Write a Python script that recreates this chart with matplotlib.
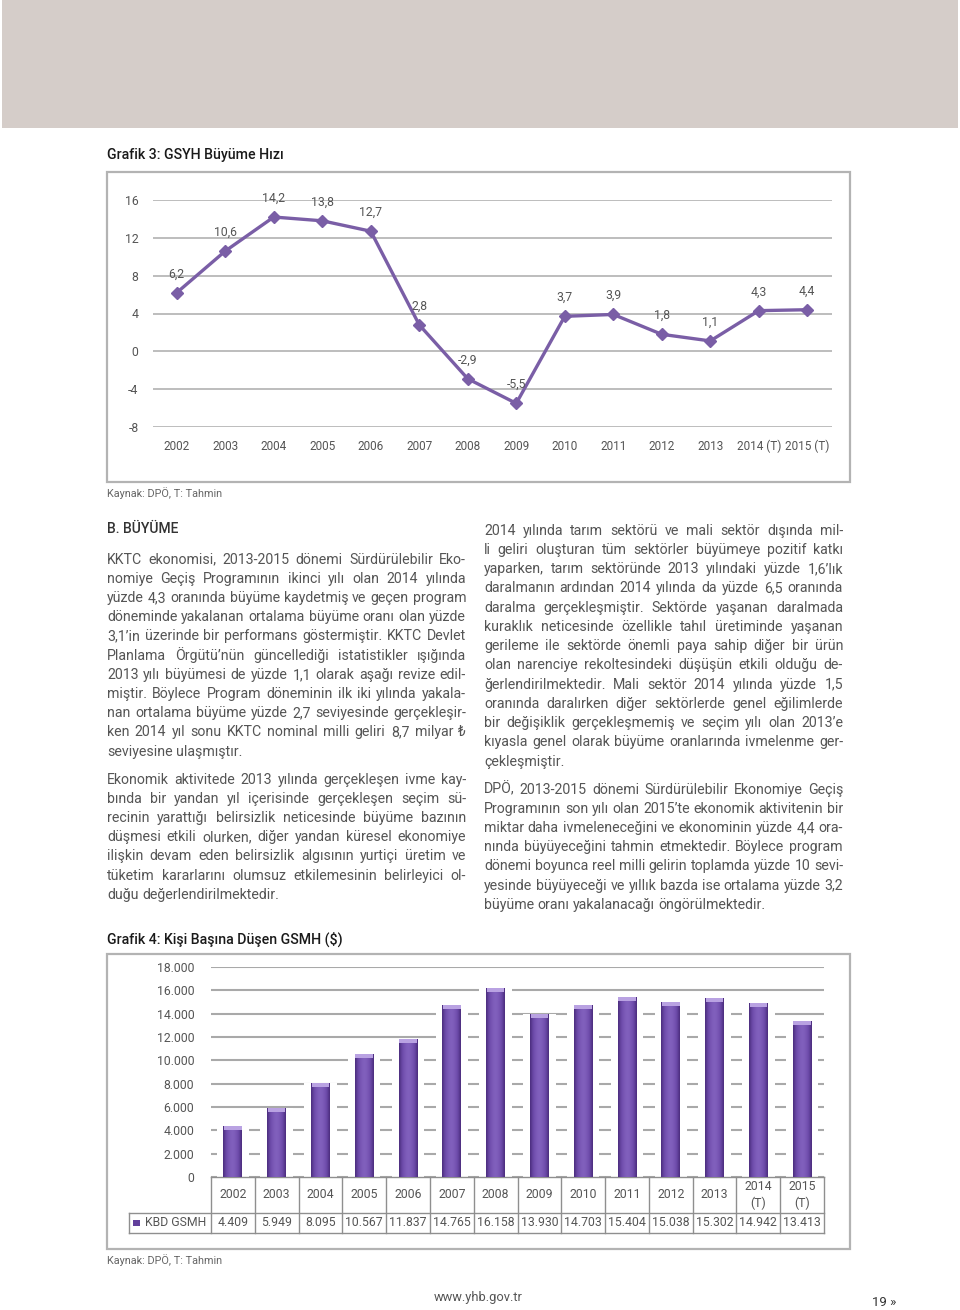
import matplotlib
matplotlib.use('Agg')
import matplotlib.pyplot as plt
import numpy as np
from matplotlib.patches import Rectangle
from matplotlib.transforms import blended_transform_factory
from matplotlib.colors import LinearSegmentedColormap

# ---------------- data ----------------
years = ['2002', '2003', '2004', '2005', '2006', '2007', '2008', '2009',
         '2010', '2011', '2012', '2013', '2014 (T)', '2015 (T)']
growth = [6.2, 10.6, 14.2, 13.8, 12.7, 2.8, -2.9, -5.5, 3.7, 3.9, 1.8, 1.1, 4.3, 4.4]
growth_labels = ['6,2', '10,6', '14,2', '13,8', '12,7', '2,8', '-2,9', '-5,5',
                 '3,7', '3,9', '1,8', '1,1', '4,3', '4,4']
growth_ticks = [-8, -4, 0, 4, 8, 12, 16]

gnp_years = ['2002', '2003', '2004', '2005', '2006', '2007', '2008', '2009',
             '2010', '2011', '2012', '2013', '2014\n(T)', '2015\n(T)']
gnp = [4409, 5949, 8095, 10567, 11837, 14765, 16158, 13930, 14703, 15404,
       15038, 15302, 14942, 13413]
gnp_labels = ['4.409', '5.949', '8.095', '10.567', '11.837', '14.765', '16.158',
              '13.930', '14.703', '15.404', '15.038', '15.302', '14.942', '13.413']
gnp_ticks = [0, 2000, 4000, 6000, 8000, 10000, 12000, 14000, 16000, 18000]
gnp_tick_labels = ['0', '2.000', '4.000', '6.000', '8.000', '10.000', '12.000',
                   '14.000', '16.000', '18.000']
series_name = 'KBD GSMH'

title1 = 'Grafik 3: GSYH Büyüme Hızı'
title2 = 'Grafik 4: Kişi Başına Düşen GSMH ($)'
source = 'Kaynak: DPÖ, T: Tahmin'
heading = 'B. BÜYÜME'

left_p1 = [
    "KKTC ekonomisi, 2013-2015 dönemi Sürdürülebilir Eko-",
    "nomiye Geçiş Programının ikinci yılı olan 2014 yılında",
    "yüzde 4,3 oranında büyüme kaydetmiş ve geçen program",
    "döneminde yakalanan ortalama büyüme oranı olan yüzde",
    "3,1’in üzerinde bir performans göstermiştir. KKTC Devlet",
    "Planlama Örgütü’nün güncellediği istatistikler ışığında",
    "2013 yılı büyümesi de yüzde 1,1 olarak aşağı revize edil-",
    "miştir. Böylece Program döneminin ilk iki yılında yakala-",
    "nan ortalama büyüme yüzde 2,7 seviyesinde gerçekleşir-",
    "ken 2014 yıl sonu KKTC nominal milli geliri 8,7 milyar ₺",
    "seviyesine ulaşmıştır.",
]
left_p2 = [
    "Ekonomik aktivitede 2013 yılında gerçekleşen ivme kay-",
    "bında bir yandan yıl içerisinde gerçekleşen seçim sü-",
    "recinin yarattığı belirsizlik neticesinde büyüme bazının",
    "düşmesi etkili olurken, diğer yandan küresel ekonomiye",
    "ilişkin devam eden belirsizlik algısının yurtiçi üretim ve",
    "tüketim kararlarını olumsuz etkilemesinin belirleyici ol-",
    "duğu değerlendirilmektedir.",
]
right_p1 = [
    "2014 yılında tarım sektörü ve mali sektör dışında mil-",
    "li geliri oluşturan tüm sektörler büyümeye pozitif katkı",
    "yaparken, tarım sektöründe 2013 yılındaki yüzde 1,6’lık",
    "daralmanın ardından 2014 yılında da yüzde 6,5 oranında",
    "daralma gerçekleşmiştir. Sektörde yaşanan daralmada",
    "kuraklık neticesinde özellikle tahıl üretiminde yaşanan",
    "gerileme ile sektörde önemli paya sahip diğer bir ürün",
    "olan narenciye rekoltesindeki düşüşün etkili olduğu de-",
    "ğerlendirilmektedir. Mali sektör 2014 yılında yüzde 1,5",
    "oranında daralırken diğer sektörlerde genel eğilimlerde",
    "bir değişiklik gerçekleşmemiş ve seçim yılı olan 2013’e",
    "kıyasla genel olarak büyüme oranlarında ivmelenme ger-",
    "çekleşmiştir.",
]
right_p2 = [
    "DPÖ, 2013-2015 dönemi Sürdürülebilir Ekonomiye Geçiş",
    "Programının son yılı olan 2015’te ekonomik aktivitenin bir",
    "miktar daha ivmeleneceğini ve ekonominin yüzde 4,4 ora-",
    "nında büyüyeceğini tahmin etmektedir. Böylece program",
    "dönemi boyunca reel milli gelirin toplamda yüzde 10 sevi-",
    "yesinde büyüyeceği ve yıllık bazda ise ortalama yüzde 3,2",
    "büyüme oranı yakalanacağı öngörülmektedir.",
]
footer_url = 'www.yhb.gov.tr'
footer_page = '19 »'

# ---------------- style ----------------
W, H = 960, 1310
FONT = ['Roboto', 'DejaVu Sans']
plt.rcParams['font.family'] = FONT
TXT = '#555555'
PURPLE = '#7a5ea6'
GRID = '#bdbdbd'
BORDER = '#b3b3b3'

fig = plt.figure(figsize=(W / 100, H / 100), dpi=100)


def rect(x0, y0, x1, y1):
    return [x0 / W, 1 - y1 / H, (x1 - x0) / W, (y1 - y0) / H]


page = fig.add_axes([0, 0, 1, 1], zorder=0)
page.set_xlim(0, W)
page.set_ylim(H, 0)
page.axis('off')

# top band
page.add_patch(Rectangle((2, 0), W - 4, 128, color='#d5cdc9', lw=0))

# chart boxes
page.add_patch(Rectangle((107, 172), 743, 310, fill=False, ec=BORDER, lw=1.6))
page.add_patch(Rectangle((107, 954), 743, 295, fill=False, ec=BORDER, lw=1.6))

page.text(107, 155, title1, fontsize=10.2, weight='medium', color='#1a1a1a',
          va='center', ha='left')
page.text(107, 939, title2, fontsize=10.2, weight='medium', color='#1a1a1a',
          va='center', ha='left')
page.text(107, 493, source, fontsize=7.8, color='#666666', va='center', ha='left')
page.text(107, 1260, source, fontsize=7.8, color='#666666', va='center', ha='left')

# ---------------- chart 1: line ----------------
ax1 = fig.add_axes(rect(152.5, 200, 831.5, 427), zorder=1)
ax1.set_facecolor('none')
x = np.arange(len(years))
ax1.plot(x, growth, color=PURPLE, lw=2.4, marker='D', ms=6.2, zorder=3,
         clip_on=False)
for xi, v, lbl in zip(x, growth, growth_labels):
    ax1.annotate(lbl, (xi, v), xytext=(0, 13.5), textcoords='offset points',
                 ha='center', va='center', fontsize=8.8, color=TXT)
ax1.set_xlim(-0.5, len(years) - 0.5)
ax1.set_ylim(-8, 16)
ax1.set_yticks(growth_ticks)
ax1.set_yticklabels([str(t) for t in growth_ticks])
ax1.set_xticks(x)
ax1.set_xticklabels(years)
ax1.yaxis.grid(True, color=GRID, lw=1.4)
ax1.set_axisbelow(True)
for s in ax1.spines.values():
    s.set_visible(False)
ax1.tick_params(axis='y', length=0, labelsize=8.8, labelcolor=TXT, pad=10)
ax1.tick_params(axis='x', length=0, labelsize=8.5, labelcolor=TXT, pad=9)

# ---------------- chart 2: bars ----------------
X0, X1, Y0, Y1 = 211, 824, 967, 1177
ax2 = fig.add_axes(rect(X0, Y0, X1, Y1), zorder=1)
ax2.set_facecolor('none')
xb = np.arange(len(gnp_years))
ax2.set_axisbelow(True)
ax2.yaxis.grid(True, color='#a9a9a9', lw=1.5, zorder=0)
# white halo behind bars (hides gridlines around the bars)
ax2.bar(xb, gnp, width=0.74, color='white', lw=0, zorder=1)
bars = ax2.bar(xb, gnp, width=0.43, color='#62409c', lw=0, zorder=2)
grad = np.abs(np.linspace(-1, 1, 64)) ** 1.6
grad = grad[np.newaxis, :]
cmap = LinearSegmentedColormap.from_list('bar', ['#8160bd', '#6c4aa9', '#4a2c7c'])
for b in bars:
    bx, bw, bh = b.get_x(), b.get_width(), b.get_height()
    im = ax2.imshow(grad, extent=[bx, bx + bw, 0, bh], aspect='auto', cmap=cmap,
                    vmin=0, vmax=1, zorder=2.5, interpolation='bicubic')
    im.set_clip_path(b)
cap = 18000 * 4 / (Y1 - Y0)
ax2.bar(xb, [cap] * len(gnp), bottom=[v - cap for v in gnp], width=0.40,
        color='#b9a2e2', lw=0, zorder=3)
ax2.set_xlim(-0.5, len(gnp_years) - 0.5)
ax2.set_ylim(0, 18000)
ax2.set_yticks(gnp_ticks)
ax2.set_yticklabels(gnp_tick_labels)
ax2.set_xticks([])
for s in ax2.spines.values():
    s.set_visible(False)
ax2.tick_params(axis='y', length=0, labelsize=8.8, labelcolor=TXT, pad=12)

# data table under the bars
trans = blended_transform_factory(ax2.transData, ax2.transAxes)
r1 = -(1213 - Y1) / (Y1 - Y0)
r2 = -(1233 - Y1) / (Y1 - Y0)
cw = (X1 - X0) / len(gnp_years)
leg_left = (129 - X0) / cw - 0.5
TB = '#8f8f8f'
n = len(gnp_years)
kw = dict(transform=trans, clip_on=False, color=TB, lw=1.0)
for i in range(n + 1):
    ax2.plot([i - 0.5, i - 0.5], [0, r2], **kw)
ax2.plot([leg_left, leg_left], [r1, r2], **kw)
ax2.plot([-0.5, n - 0.5], [0, 0], **kw)
ax2.plot([leg_left, n - 0.5], [r1, r1], **kw)
ax2.plot([leg_left, n - 0.5], [r2, r2], **kw)
for i, (yl, vl) in enumerate(zip(gnp_years, gnp_labels)):
    ax2.text(i, r1 / 2, yl, transform=trans, ha='center', va='center',
             fontsize=8.8, color=TXT, linespacing=1.3)
    ax2.text(i, (r1 + r2) / 2, vl, transform=trans, ha='center', va='center',
             fontsize=8.8, color=TXT)
page.add_patch(Rectangle((133, 1219.5), 6.5, 6.5, color='#62409c', lw=0))
page.text(145, 1223, series_name, fontsize=8.8, color=TXT, ha='left', va='center')

# ---------------- body text ----------------
renderer = fig.canvas.get_renderer()


def measure(s, fs):
    t = page.text(0, 0, s, fontsize=fs)
    w = t.get_window_extent(renderer).width
    t.remove()
    return w


COLW = 359
MINGAP = 2.2
pars = [left_p1, left_p2, right_p1, right_p2]
fs = 10.2
while fs > 7:
    ok = True
    for p in pars:
        for l in p[:-1]:
            words = l.split(' ')
            tot = sum(measure(w, fs) for w in words) + MINGAP * (len(words) - 1)
            if tot > COLW:
                ok = False
                break
        if not ok:
            break
    if ok:
        break
    fs -= 0.1


def draw_par(lines, x0, yc0, dy):
    space = measure('a a', fs) - measure('aa', fs)
    for i, line in enumerate(lines):
        words = line.split(' ')
        ws = [measure(w, fs) for w in words]
        y = yc0 + i * dy + 4.6
        if i == len(lines) - 1 or len(words) == 1:
            gap = space
        else:
            gap = (COLW - sum(ws)) / (len(words) - 1)
        xx = x0
        for w, wd in zip(words, ws):
            page.text(xx, y, w, fontsize=fs, color=TXT, ha='left', va='baseline')
            xx += wd + gap


page.text(107, 529, heading, fontsize=10, weight='medium', color='#333333',
          ha='left', va='center')
draw_par(left_p1, 107, 559, 19.2)
draw_par(left_p2, 107, 779, 19.2)
draw_par(right_p1, 484, 530, 19.25)
draw_par(right_p2, 484, 789, 19.2)

# footer
page.text(478, 1298, footer_url, fontsize=9.3, color='#555555', ha='center', va='center')
page.text(872, 1303, footer_page, fontsize=9.5, color='#333333', ha='left', va='center')

fig.savefig('out.png', dpi=100)
